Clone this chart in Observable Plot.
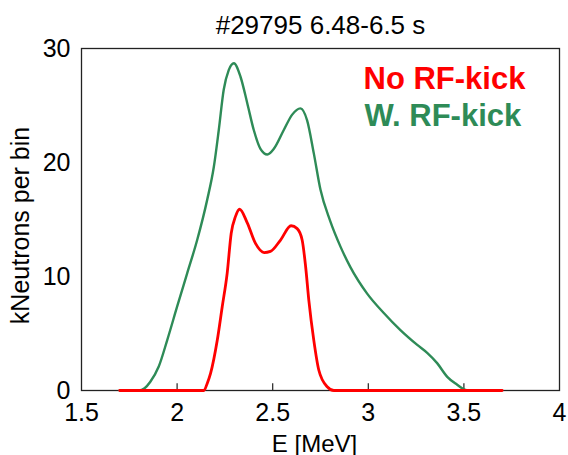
<!DOCTYPE html>
<html>
<head>
<meta charset="utf-8">
<script src="https://cdn.jsdelivr.net/npm/d3@7"></script>
<script src="https://cdn.jsdelivr.net/npm/@observablehq/plot@0.6"></script>
<style>
  html, body { margin: 0; padding: 0; background: #fff; }
  #chart { width: 568px; height: 455px; }
</style>
</head>
<body>
<div id="chart"></div>
<script>
const title = "#29795 6.48-6.5 s";
const xLabel = "E [MeV]";
const yLabel = "kNeutrons per bin";
const seriesNames = ["No RF-kick", "W. RF-kick"];
const seriesColors = ["#ff0000", "#2e8b57"];

const xTicks = [1.5, 2, 2.5, 3, 3.5, 4];
const yTicks = [0, 10, 20, 30];
const innerTicks = [2, 2.5, 3, 3.5];

// No RF-kick (red)
const redE = [1.7, 2.0, 2.14, 2.157, 2.175, 2.21, 2.236, 2.262, 2.283, 2.305, 2.327, 2.367, 2.41, 2.455, 2.488, 2.541, 2.596, 2.628, 2.654, 2.672, 2.689, 2.715, 2.741, 2.785, 2.82, 3.0, 3.7];
const redV = [0, 0, 0, 0.6, 1.5, 4.4, 7.35, 10.3, 13.8, 15.25, 15.9, 14.7, 12.9, 12.1, 12.2, 13.2, 14.45, 14.2, 13.2, 10.9, 7.9, 4.4, 1.8, 0.33, 0, 0, 0];

// With RF-kick (green)
const greenE = [1.7, 1.8, 1.83, 1.86, 1.904, 1.948, 2.0, 2.053, 2.105, 2.157, 2.192, 2.218, 2.244, 2.27, 2.297, 2.332, 2.367, 2.401, 2.436, 2.472, 2.506, 2.558, 2.602, 2.645, 2.68, 2.715, 2.75, 2.80, 2.855, 2.907, 2.994, 3.081, 3.168, 3.256, 3.308, 3.36, 3.413, 3.465, 3.5, 3.52];
const greenV = [0, 0, 0.2, 0.77, 2.1, 4.4, 7.35, 10.3, 13.2, 16.7, 19.6, 22.85, 26.4, 28.1, 28.7, 27.5, 25.2, 22.85, 21.2, 20.7, 21.2, 22.85, 24.2, 24.75, 23.7, 20.8, 17.6, 14.9, 12.6, 10.8, 8.5, 6.8, 5.3, 4.0, 3.3, 2.4, 1.2, 0.5, 0.1, 0];

const red = redE.map((e, i) => ({E: e, v: redV[i]}));
const green = greenE.map((e, i) => ({E: e, v: greenV[i]}));

const font = "'Liberation Sans', Arial, sans-serif";

const plot = Plot.plot({
  width: 568,
  height: 455,
  marginLeft: 81,
  marginRight: 9,
  marginTop: 48,
  marginBottom: 65,
  style: {fontFamily: font, fontSize: "25px", background: "#fff", color: "#000"},
  x: {domain: [1.5, 4]},
  y: {domain: [0, 30]},
  marks: [
    Plot.frame({stroke: "#222", strokeWidth: 1.3}),
    Plot.ruleX(innerTicks, {x: d => d, y1: 0, y2: 0.6, stroke: "#222", strokeWidth: 1.2}),
    Plot.axisX({ticks: xTicks, tickSize: 0, tickPadding: 13, fontSize: 25, label: null, tickFormat: d => String(d)}),
    Plot.axisY({ticks: yTicks, tickSize: 0, tickPadding: 11, fontSize: 25, label: null}),
    Plot.line(green, {x: "E", y: "v", stroke: seriesColors[1], strokeWidth: 2.4, curve: "monotone-x"}),
    Plot.line(red, {x: "E", y: "v", stroke: seriesColors[0], strokeWidth: 2.8, curve: "monotone-x"}),
    Plot.text([title], {text: d => d, frameAnchor: "top", lineAnchor: "bottom", dy: -15, fontSize: 26, fill: "#000"}),
    Plot.text([xLabel], {text: d => d, frameAnchor: "bottom", lineAnchor: "bottom", dy: 61, dx: -6, fontSize: 24, fill: "#000"}),
    Plot.text([yLabel], {text: d => d, frameAnchor: "left", textAnchor: "middle", rotate: -90, dx: -61, dy: 6, fontSize: 25, fill: "#000"}),
    Plot.text([seriesNames[0]], {text: d => d, frameAnchor: "top-left", textAnchor: "start", lineAnchor: "bottom", dx: 282, dy: 40, fontSize: 31, fontWeight: "bold", fill: seriesColors[0]}),
    Plot.text([seriesNames[1]], {text: d => d, frameAnchor: "top-left", textAnchor: "start", lineAnchor: "bottom", dx: 283, dy: 77, fontSize: 31, fontWeight: "bold", fill: seriesColors[1]})
  ]
});
document.getElementById("chart").appendChild(plot);
</script>
</body>
</html>
